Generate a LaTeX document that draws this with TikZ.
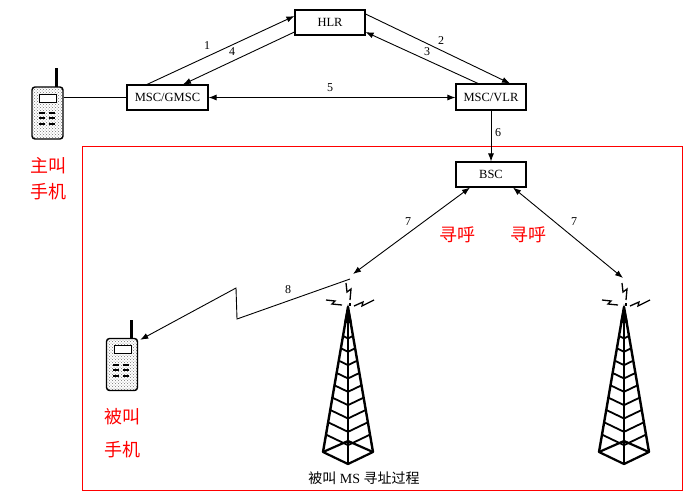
\documentclass[tikz,border=0pt]{standalone}
\usepackage{fontspec}
\setmainfont{Liberation Serif}
\newfontfamily\cjk{Noto Sans CJK SC}
\usetikzlibrary{arrows.meta,calc,patterns}
\tikzset{
  towerpic/.pic={
    \fill (0,-3) -- (-4,16) -- (4,16) -- cycle;
    \draw[line width=2.4pt, line join=round] (-25,145) -- (0,0) -- (25,145);
    \draw[line width=2.4pt] (0,0) -- (0,157);
    \draw[line width=2.2pt, line join=round] (-25,145) -- (0,157) -- (25,145) -- (0,134) -- cycle;
    \foreach \i in {0,...,8} {
      \pgfmathsetmacro{\t}{0.2+0.085*\i}
      \draw[line width=1.8pt, line join=round] (-25*\t,145*\t) -- (0,157*\t) -- (25*\t,145*\t);
    }
    \draw[line width=1.3pt] (-2,-24) -- (-1,-15) -- (3,-18) -- (2,-7);
    \draw[line width=1.2pt] (2,-4) -- (2,-1);
    \draw[line width=1.3pt] (-22,-7) -- (-13,-6) -- (-16,-3) -- (-6,-2);
    \draw[line width=1.3pt] (6,-1) -- (15,-5) -- (14,-1) -- (26,-7);
  },
  phonedet/.pic={
    \draw[fill=white, line width=1pt] (-8,-19) rectangle (9,-11);
    \foreach \yy in {0,5,11} {
      \draw[line width=2pt] (-9,\yy) -- (-3,\yy);
      \draw[line width=2pt] (1,\yy) -- (7,\yy);
    }
    \draw[line width=3pt] (9,-26) -- (9,-45);
  }
}
\begin{document}
\begin{tikzpicture}[x=1pt,y=-1pt,
  box/.style={draw, line width=1.1pt, inner sep=0pt, minimum height=25pt, minimum width=70pt, font=\fontsize{12.5}{12.5}\selectfont},
  conn/.style={line width=0.9pt, -{Latex[length=8pt,width=6pt]}},
  biconn/.style={line width=0.9pt, {Latex[length=8pt,width=6pt]}-{Latex[length=8pt,width=6pt]}},
  num/.style={font=\fontsize{12}{12}\selectfont, inner sep=0pt},
  redlbl/.style={text=red, font=\cjk\fontsize{18}{18}\selectfont, inner sep=0pt},
  phonebody/.style={draw, line width=1.4pt, rounded corners=3pt, fill=black!12, pattern=crosshatch dots, pattern color=black!55, minimum width=31pt, minimum height=52pt, inner sep=0pt},
]
\useasboundingbox (0,0) rectangle (700,499);
\fill[white] (0,0) rectangle (700,499);

% red frame
\draw[red, line width=1pt] (82,146) rectangle (682,490);

% boxes
\node[box] (hlr) at (330,22.5) {HLR};
\node[box, minimum width=81pt] (gmsc) at (167.5,97.5) {MSC/GMSC};
\node[box, minimum height=26pt] (vlr) at (491,97) {MSC/VLR};
\node[box] (bsc) at (491,174.5) {BSC};

% phones
\node[phonebody] (phone1) at (47.5,113) {};
\pic at (phone1.center) {phonedet};
\node[phonebody] (phone2) at (122,364.5) {};
\pic at (phone2.center) {phonedet};

% towers
\pic at (348,307) {towerpic};
\pic at (624,307) {towerpic};
\coordinate (ant1) at (353,274);
\coordinate (ant1z) at (350,279);
\coordinate (ant2) at (623,278);
\coordinate (z1) at (237,319);
\coordinate (z2) at (236,288);

% connectors
\draw[line width=0.9pt] (phone1.east |- gmsc.west) -- (gmsc.west);
\draw[conn] ($(gmsc.north)+(-20.5,0)$) -- ($(hlr.west)+(0,-6.5)$);
\draw[conn] ($(hlr.west)+(0,9.5)$) -- ($(gmsc.north)+(15.5,0)$);
\draw[conn] ($(hlr.east)+(0,-8.5)$) -- ($(vlr.north)+(19,0)$);
\draw[conn] ($(vlr.north)+(-13,0)$) -- ($(hlr.east)+(0,9.5)$);
\draw[biconn] (gmsc.east) -- (gmsc.east -| vlr.west);
\draw[conn] (vlr.south) -- (bsc.north);
\draw[biconn] ($(bsc.south)+(-21,0)$) -- (ant1);
\draw[biconn] ($(bsc.south)+(22,0)$) -- (ant2);
\draw[conn, line join=miter] (ant1z) -- (z1) -- (z2) -- ($(phone2.north east)+(2,2)$);

% numbers
\node[num] at (207,46) {1};
\node[num] at (232,52) {4};
\node[num] at (441,41) {2};
\node[num] at (427,52) {3};
\node[num] at (330,88) {5};
\node[num] at (498,133) {6};
\node[num] at (408,222) {7};
\node[num] at (574,222) {7};
\node[num] at (288,290) {8};

% red labels
\node[redlbl] at (48.5,166) {主叫};
\node[redlbl] at (48.5,192) {手机};
\node[redlbl] at (122,417) {被叫};
\node[redlbl] at (122,450) {手机};
\node[redlbl] at (457,235) {寻呼};
\node[redlbl] at (528,235) {寻呼};

% caption
\node[inner sep=0pt, font=\fontsize{14}{14}\selectfont] at (364,478) {{\cjk 被叫} MS {\cjk 寻址过程}};
\end{tikzpicture}
\end{document}
